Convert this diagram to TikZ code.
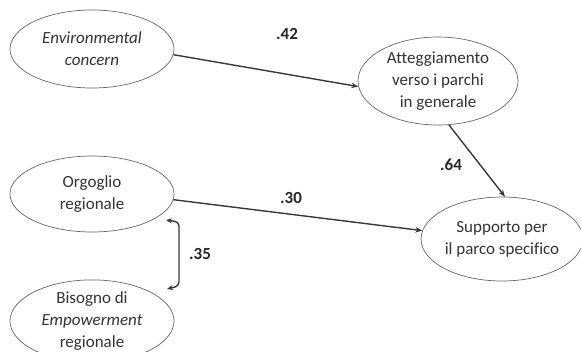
\documentclass[tikz,border=0pt]{standalone}
\usepackage{fontspec}
\setmainfont[Ligatures=NoCommon]{Carlito}
\usetikzlibrary{arrows.meta,shapes.geometric}
\begin{document}
\begin{tikzpicture}[x=1pt,y=-1pt,
  var/.style={draw=black!60,line width=0.7pt,ellipse,inner sep=0pt,align=center,
    text=black!80,font=\fontsize{17}{21.7}\selectfont},
  path/.style={draw=black!78,line width=1.4pt,-{Stealth[length=7pt,width=5.5pt]}},
  coef/.style={font=\fontsize{17}{20}\selectfont\bfseries,text=black!85}]
\useasboundingbox (0,0) rectangle (581,351);
\node[var,minimum width=164pt,minimum height=78pt] (env) at (92,49) {\itshape Environmental\\\itshape concern};
\node[var,minimum width=160pt,minimum height=88pt] (att) at (438,81) {Atteggiamento\\verso i parchi\\in generale};
\node[var,minimum width=164pt,minimum height=76pt] (org) at (92,194) {Orgoglio\\regionale};
\node[var,minimum width=164pt,minimum height=74pt] (bis) at (92,321) {Bisogno di\\\itshape Empowerment\\regionale};
\node[var,minimum width=158pt,minimum height=84pt] (sup) at (502,239) {Supporto per\\il parco specifico};
\draw[path] (env.-4) -- (att.-176);
\draw[path] (att.-76) -- (sup.86);
\draw[path] (org.-4) -- (sup.174);
\coordinate (b1) at (166,220);
\coordinate (b2) at (167,289);
\draw[draw=black!78,line width=1.4pt,{Stealth[length=6pt,width=5pt]}-{Stealth[length=6pt,width=5pt]},rounded corners=4pt]
  (b1) -- (179,222) -- (179,286) -- (b2);
\node[coef] (l42) at (287,34) {.42};
\node[coef] (l64) at (451,165) {.64};
\node[coef] (l30) at (291,198) {.30};
\node[coef] (l35) at (200,254) {.35};
\end{tikzpicture}
\end{document}
